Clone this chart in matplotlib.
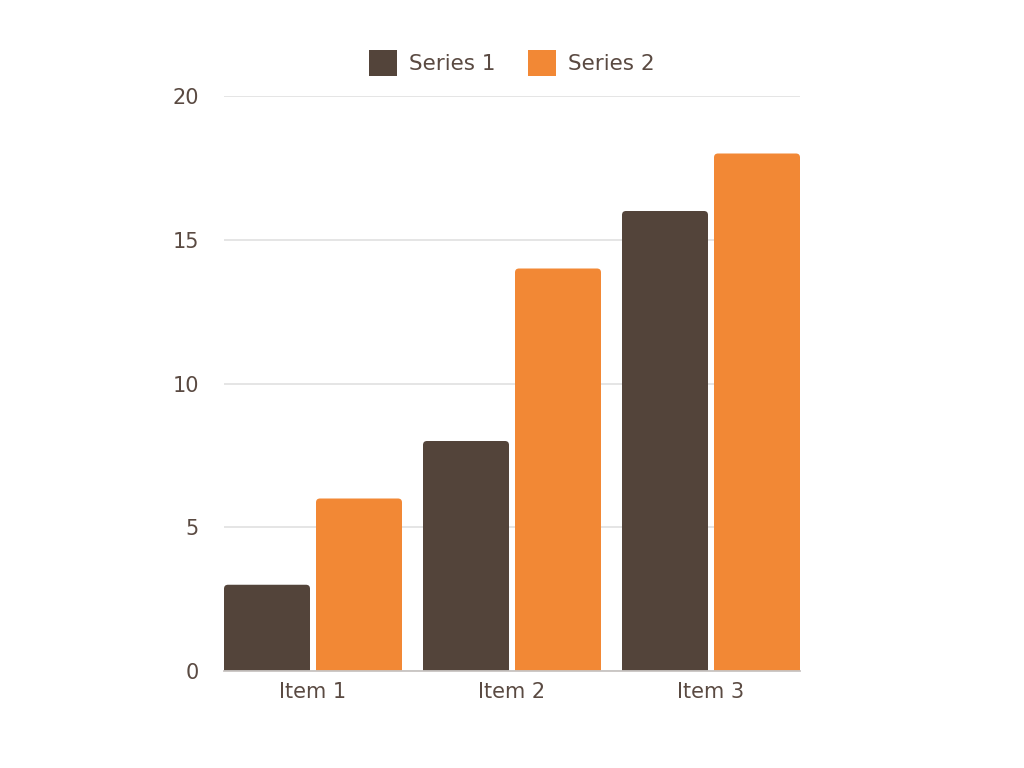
import numpy as np
import matplotlib.pyplot as plt
from matplotlib.patches import FancyBboxPatch, Patch

categories = ["Item 1", "Item 2", "Item 3"]
series_names = ["Series 1", "Series 2"]
series1 = [3, 8, 16]
series2 = [6, 14, 18]
y_ticks = [0, 5, 10, 15, 20]

colors = ["#53443a", "#f28835"]
text_color = "#5a4a42"

plt.rcParams["font.family"] = "sans-serif"
plt.rcParams["font.sans-serif"] = ["DejaVu Sans"]

fig = plt.figure(figsize=(10.24, 7.68), dpi=100)
ax = fig.add_axes([224 / 1024, 97 / 768, 576 / 1024, 575 / 768])

x = np.arange(len(categories))
bar_w = 86 / 199
offset = 46 / 199
xlim = (-89 / 199, 2 + 89 / 199)
ax.set_xlim(*xlim)
ax.set_ylim(0, 20)

# rounded top corners (~4 px radius)
x_per_px = (xlim[1] - xlim[0]) / 576
y_per_px = 20 / 575
rad = 4 * x_per_px
aspect = y_per_px / x_per_px

for vals, dx, col in [(series1, -offset, colors[0]), (series2, offset, colors[1])]:
    for xi, v in zip(x, vals):
        left = xi + dx - bar_w / 2
        p = FancyBboxPatch((left, -1), bar_w, v + 1,
                           boxstyle=f"round,pad=0,rounding_size={rad}",
                           mutation_aspect=aspect, facecolor=col,
                           edgecolor="none", zorder=3)
        ax.add_patch(p)

ax.set_yticks(y_ticks)
ax.set_xticks(x)
ax.set_xticklabels(categories)
ax.grid(axis="y", color="#e3e3e3", linewidth=1.3, zorder=0)
for s in ["top", "right", "left"]:
    ax.spines[s].set_visible(False)
ax.spines["bottom"].set_color("#c8c4c2")
ax.spines["bottom"].set_linewidth(1.3)
ax.spines["bottom"].set_zorder(4)
ax.tick_params(axis="both", length=0, labelsize=15, labelcolor=text_color)
ax.tick_params(axis="y", pad=18)
ax.tick_params(axis="x", pad=8)

handles = [Patch(facecolor=c, edgecolor="none") for c in colors]
fig.legend(handles, series_names, loc="center", bbox_to_anchor=(0.5, 1 - 63 / 768),
           ncol=2, frameon=False, fontsize=15.5, labelcolor=text_color,
           handlelength=1.3, handleheight=1.55, handletextpad=0.55, columnspacing=1.5)

fig.savefig("out.png", dpi=100)
